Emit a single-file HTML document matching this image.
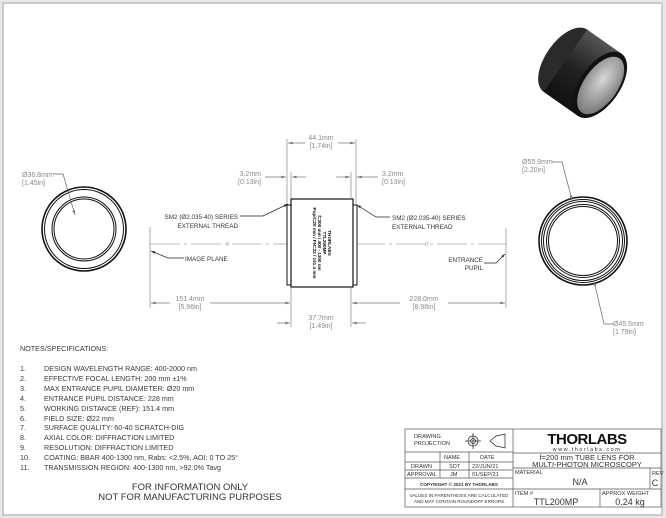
<!DOCTYPE html>
<html><head><meta charset="utf-8"><style>
html,body{margin:0;padding:0;background:#fff;width:666px;height:518px;overflow:hidden}
svg{display:block}
text{font-family:"Liberation Sans",sans-serif}
.d{fill:#8a8a8a;font-size:7px}
.b{fill:#333;font-size:6.3px}
.n{fill:#3a3a3a;font-size:7.2px}
</style></head><body>
<svg width="666" height="518" viewBox="0 0 666 518" xmlns="http://www.w3.org/2000/svg">
<defs>
<marker id="a" viewBox="0 0 10 6" refX="10" refY="3" markerWidth="7" markerHeight="4" orient="auto-start-reverse"><path d="M0,0L10,3L0,6z" fill="#777"/></marker>
<marker id="k" viewBox="0 0 10 6" refX="10" refY="3" markerWidth="6" markerHeight="4" orient="auto"><path d="M0,0L10,3L0,6z" fill="#222"/></marker>
<radialGradient id="g" cx="0.45" cy="0.4" r="0.7"><stop offset="0" stop-color="#d8d8d8"/><stop offset="1" stop-color="#6a6a6a"/></radialGradient>
<linearGradient id="bk" x1="0" y1="0" x2="0" y2="1"><stop offset="0" stop-color="#555"/><stop offset="0.5" stop-color="#222"/><stop offset="1" stop-color="#111"/></linearGradient>
</defs>
<rect x="0" y="0" width="666" height="518" fill="#e8e8e8"/>
<rect x="3" y="3" width="659" height="512" fill="#fff" stroke="#bdbdbd" stroke-width="1.5"/>
<rect x="6" y="6" width="654" height="507" fill="#fff"/>

<g transform="translate(590,78) rotate(35)">
<ellipse cx="-30" cy="0" rx="20" ry="38" fill="#2a2a2a"/>
<rect x="-30" y="-38" width="42" height="76" fill="url(#bk)"/>
<ellipse cx="12" cy="0" rx="20" ry="38" fill="#111"/>
<ellipse cx="13" cy="0" rx="17" ry="33" fill="url(#g)"/>
</g>

<g fill="none" stroke="#111">
<circle cx="84" cy="229" r="42" stroke-width="1.6"/>
<circle cx="84" cy="229" r="39.5" stroke-width="1"/>
<circle cx="84" cy="229" r="32" stroke-width="1"/>
<circle cx="84" cy="229" r="30" stroke-width="1"/>
</g>
<text x="22" y="177" class="d">Ø36.8mm</text><text x="22" y="185" class="d">[1.45in]</text>
<polyline points="53,174 63,174 75,215" fill="none" stroke="#666" stroke-width="0.7" marker-end="url(#a)"/>

<g fill="none" stroke="#111">
<circle cx="583" cy="241" r="44" stroke-width="1.6"/>
<circle cx="583" cy="241" r="41.5" stroke-width="1"/>
<circle cx="583" cy="241" r="39.5" stroke-width="1"/>
<circle cx="583" cy="241" r="36.5" stroke-width="1"/>
<circle cx="583" cy="241" r="34.5" stroke-width="1"/>
</g>
<text x="522" y="164" class="d">Ø55.9mm</text><text x="522" y="172" class="d">[2.20in]</text>
<polyline points="552,162 562,162 572,200" fill="none" stroke="#666" stroke-width="0.7" marker-end="url(#a)"/>
<text x="613" y="326" class="d">Ø45.5mm</text><text x="613" y="334" class="d">[1.79in]</text>
<polyline points="613,324 604,324 594,281" fill="none" stroke="#666" stroke-width="0.7" marker-end="url(#a)"/>

<line x1="150" y1="244" x2="506" y2="244" stroke="#aaa" stroke-width="0.8" stroke-dasharray="30,4,3,4"/>
<line x1="150" y1="227" x2="150" y2="308" stroke="#888" stroke-width="0.7"/>
<line x1="506" y1="228" x2="506" y2="308" stroke="#888" stroke-width="0.7"/>
<text x="226" y="246" fill="#999" font-size="6">//</text>
<text x="425" y="246" fill="#999" font-size="6">//</text>

<rect x="287" y="205" width="4" height="80" fill="#fff" stroke="#111" stroke-width="1"/>
<rect x="353" y="205" width="4" height="80" fill="#fff" stroke="#111" stroke-width="1"/>
<rect x="291" y="199" width="62" height="88" fill="#fff" stroke="#111" stroke-width="1.2"/>
<g transform="translate(322,243) rotate(90)" fill="#111" font-size="4.6" font-weight="bold" text-anchor="middle">
<text x="0" y="-6">THORLABS</text><text x="0" y="-1">TTL200MP</text>
<text x="0" y="4">f=200 mm / 400 - 1300 nm</text><text x="0" y="9">Pupil=20 mm / FN=22 / 151.4 mm</text>
</g>

<line x1="287" y1="139" x2="287" y2="205" stroke="#888" stroke-width="0.7"/>
<line x1="356" y1="139" x2="356" y2="205" stroke="#888" stroke-width="0.7"/>
<line x1="305" y1="143" x2="288" y2="143" stroke="#777" stroke-width="0.7" marker-end="url(#a)"/>
<line x1="338" y1="143" x2="355" y2="143" stroke="#777" stroke-width="0.7" marker-end="url(#a)"/>
<text x="321" y="140" class="d" text-anchor="middle">44.1mm</text><text x="321" y="148" class="d" text-anchor="middle">[1.74in]</text>
<line x1="291" y1="172" x2="291" y2="199" stroke="#888" stroke-width="0.7"/>
<line x1="351" y1="172" x2="351" y2="199" stroke="#888" stroke-width="0.7"/>
<line x1="265" y1="177" x2="286" y2="177" stroke="#777" stroke-width="0.7" marker-end="url(#a)"/>
<line x1="306" y1="177" x2="292" y2="177" stroke="#777" stroke-width="0.7" marker-end="url(#a)"/>
<line x1="336" y1="177" x2="350" y2="177" stroke="#777" stroke-width="0.7" marker-end="url(#a)"/>
<line x1="378" y1="177" x2="357" y2="177" stroke="#777" stroke-width="0.7" marker-end="url(#a)"/>
<text x="261" y="176" class="d" text-anchor="end">3.2mm</text><text x="261" y="184" class="d" text-anchor="end">[0.13in]</text>
<text x="382" y="176" class="d">3.2mm</text><text x="382" y="184" class="d">[0.13in]</text>
<line x1="291" y1="287" x2="291" y2="327" stroke="#888" stroke-width="0.7"/>
<line x1="351" y1="287" x2="351" y2="327" stroke="#888" stroke-width="0.7"/>
<line x1="170" y1="303" x2="151" y2="303" stroke="#777" stroke-width="0.7" marker-end="url(#a)"/>
<line x1="210" y1="303" x2="290" y2="303" stroke="#777" stroke-width="0.7" marker-end="url(#a)"/>
<text x="190" y="301" class="d" text-anchor="middle">151.4mm</text><text x="190" y="309" class="d" text-anchor="middle">[5.96in]</text>
<line x1="400" y1="303" x2="352" y2="303" stroke="#777" stroke-width="0.7" marker-end="url(#a)"/>
<line x1="448" y1="303" x2="505" y2="303" stroke="#777" stroke-width="0.7" marker-end="url(#a)"/>
<text x="424" y="301" class="d" text-anchor="middle">228.0mm</text><text x="424" y="309" class="d" text-anchor="middle">[8.98in]</text>
<line x1="277" y1="323" x2="290" y2="323" stroke="#777" stroke-width="0.7" marker-end="url(#a)"/>
<line x1="366" y1="323" x2="352" y2="323" stroke="#777" stroke-width="0.7" marker-end="url(#a)"/>
<text x="321" y="320" class="d" text-anchor="middle">37.7mm</text><text x="321" y="328" class="d" text-anchor="middle">[1.49in]</text>

<text x="238" y="219" class="b" text-anchor="end">SM2  (Ø2.035-40) SERIES</text>
<text x="238" y="228" class="b" text-anchor="end">EXTERNAL THREAD</text>
<polyline points="240,216 263,216 288,204" fill="none" stroke="#222" stroke-width="0.7" marker-end="url(#k)"/>
<text x="392" y="220" class="b">SM2  (Ø2.035-40) SERIES</text>
<text x="392" y="229" class="b">EXTERNAL THREAD</text>
<polyline points="390,217 376,217 357,205" fill="none" stroke="#222" stroke-width="0.7" marker-end="url(#k)"/>
<text x="185" y="261" class="b">IMAGE PLANE</text>
<polyline points="184,258 168,258 151,251" fill="none" stroke="#222" stroke-width="0.7" marker-end="url(#k)"/>
<text x="483" y="262" class="b" text-anchor="end">ENTRANCE</text>
<text x="483" y="270" class="b" text-anchor="end">PUPIL</text>
<polyline points="484,263 496,263 505,254" fill="none" stroke="#222" stroke-width="0.7" marker-end="url(#k)"/>

<text x="20" y="351" class="n">NOTES/SPECIFICATIONS:</text>
<g class="n">
<text x="20" y="371">1.</text><text x="44" y="371">DESIGN WAVELENGTH RANGE: 400-2000 nm</text>
<text x="20" y="381">2.</text><text x="44" y="381">EFFECTIVE FOCAL LENGTH: 200 mm ±1%</text>
<text x="20" y="391">3.</text><text x="44" y="391">MAX ENTRANCE PUPIL DIAMETER: Ø20 mm</text>
<text x="20" y="401">4.</text><text x="44" y="401">ENTRANCE PUPIL DISTANCE: 228 mm</text>
<text x="20" y="411">5.</text><text x="44" y="411">WORKING DISTANCE (REF): 151.4 mm</text>
<text x="20" y="421">6.</text><text x="44" y="421">FIELD SIZE: Ø22 mm</text>
<text x="20" y="430">7.</text><text x="44" y="430">SURFACE QUALITY: 60-40 SCRATCH-DIG</text>
<text x="20" y="440">8.</text><text x="44" y="440">AXIAL COLOR: DIFFRACTION LIMITED</text>
<text x="20" y="450">9.</text><text x="44" y="450">RESOLUTION: DIFFRACTION LIMITED</text>
<text x="20" y="460">10.</text><text x="44" y="460">COATING: BBAR 400-1300 nm, Rabs: &lt;2.5%, AOI: 0 TO 25°</text>
<text x="20" y="470">11.</text><text x="44" y="470">TRANSMISSION REGION: 400-1300 nm, &gt;92.0% Tavg</text>
</g>
<text x="190" y="490" fill="#333" font-size="9.5" text-anchor="middle">FOR INFORMATION ONLY</text>
<text x="190" y="500" fill="#333" font-size="9.5" text-anchor="middle">NOT FOR MANUFACTURING PURPOSES</text>

<g fill="none" stroke="#555" stroke-width="0.7">
<rect x="405" y="429" width="256" height="78"/>
<line x1="513" y1="429" x2="513" y2="507"/>
<line x1="405" y1="452" x2="513" y2="452"/>
<line x1="405" y1="462" x2="513" y2="462"/>
<line x1="405" y1="470" x2="513" y2="470"/>
<line x1="405" y1="478" x2="513" y2="478"/>
<line x1="405" y1="489" x2="513" y2="489"/>
<line x1="440" y1="452" x2="440" y2="478"/>
<line x1="469" y1="452" x2="469" y2="478"/>
<line x1="513" y1="453" x2="661" y2="453"/>
<line x1="513" y1="468" x2="661" y2="468"/>
<line x1="513" y1="489" x2="661" y2="489"/>
<line x1="650" y1="468" x2="650" y2="489"/>
<line x1="600" y1="489" x2="600" y2="507"/>
<circle cx="473" cy="441" r="5" stroke="#222"/><circle cx="473" cy="441" r="2.5" stroke="#222"/>
<line x1="465" y1="441" x2="481" y2="441" stroke="#222"/><line x1="473" y1="433" x2="473" y2="449" stroke="#222"/>
<path d="M490,441 L496,436 L505,434 L505,448 L496,446 Z" stroke="#222"/>
</g>
<g fill="#333" font-size="5.6">
<text x="414" y="438">DRAWING</text><text x="414" y="445">PROJECTION</text>
<text x="444" y="459">NAME</text><text x="480" y="459">DATE</text>
<text x="411" y="468">DRAWN</text><text x="449" y="468">SDT</text><text x="472" y="468">22/JUN/21</text>
<text x="407" y="476">APPROVAL</text><text x="450" y="476">JM</text><text x="472" y="476">01/SEP/21</text>
<text x="459" y="486" text-anchor="middle" font-size="4.6" font-weight="bold">COPYRIGHT © 2021 BY THORLABS</text>
<text x="459" y="497" text-anchor="middle" font-size="4.6">VALUES IN PARENTHESIS ARE CALCULATED</text>
<text x="459" y="503" text-anchor="middle" font-size="4.6">AND MAY CONTAIN ROUNDOFF ERRORS</text>
<text x="587" y="444" text-anchor="middle" font-size="15" font-weight="bold" fill="#111" letter-spacing="-0.5">THORLABS</text>
<text x="587" y="451" text-anchor="middle" font-size="5.5" letter-spacing="1.5">www.thorlabs.com</text>
<text x="587" y="460" text-anchor="middle" font-size="7.5">f=200 mm TUBE LENS FOR</text>
<text x="587" y="467" text-anchor="middle" font-size="7.5">MULTI-PHOTON MICROSCOPY</text>
<text x="515" y="474" font-size="5.6">MATERIAL</text>
<text x="580" y="485" text-anchor="middle" font-size="9">N/A</text>
<text x="652" y="475" font-size="5.6">REV</text><text x="655" y="486" text-anchor="middle" font-size="9">C</text>
<text x="515" y="495" font-size="5.6">ITEM #</text>
<text x="556" y="505" text-anchor="middle" font-size="9">TTL200MP</text>
<text x="602" y="495" font-size="5.6">APPROX WEIGHT</text>
<text x="630" y="505" text-anchor="middle" font-size="9">0.24 kg</text>
</g>
</svg>
</body></html>
